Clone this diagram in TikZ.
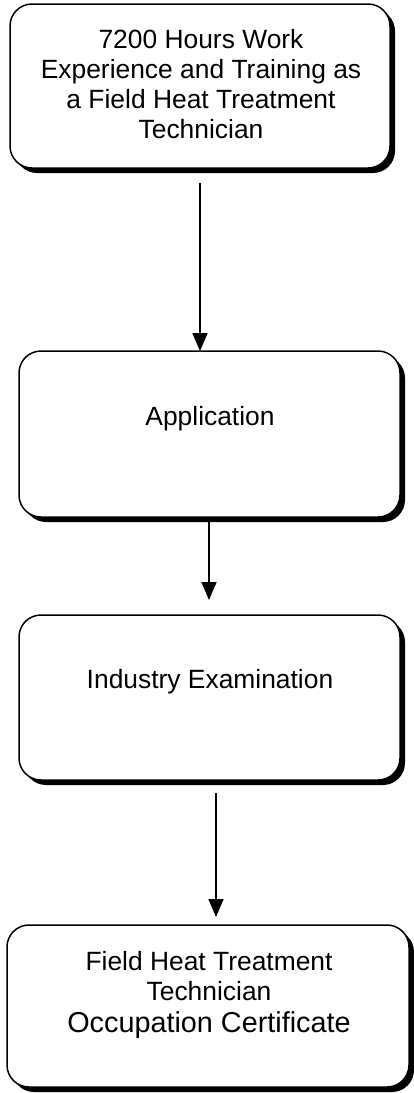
\documentclass[tikz,border=0pt]{standalone}
\usepackage{fontspec}
\setmainfont{Liberation Sans}
\usetikzlibrary{arrows.meta,shadows}
\begin{document}
\begin{tikzpicture}[x=1pt,y=-1pt,
  stepbox/.style={draw=black, line width=1.5pt, fill=white, rounded corners=22pt,
    inner sep=0pt, outer sep=0pt,
    drop shadow={shadow xshift=5pt, shadow yshift=-5pt, fill=black, opacity=1}},
  label/.style={align=center, inner sep=0pt, font=\fontsize{26.4}{30}\selectfont},
  arr/.style={line width=1.6pt, -{Triangle[width=15pt,length=18pt]}}]
\useasboundingbox (0,0) rectangle (413,1093);
\node[stepbox, minimum width=380pt, minimum height=164pt] (b1) at (200,86) {};
\node[stepbox, minimum width=381pt, minimum height=166pt] (b2) at (209.5,434) {};
\node[stepbox, minimum width=381pt, minimum height=165pt] (b3) at (209.5,697.5) {};
\node[stepbox, minimum width=402pt, minimum height=162pt] (b4) at (208,1006) {};
\node[label] (t1) at (201,84.5) {7200 Hours Work\\Experience and Training as\\a Field Heat Treatment\\Technician};
\node[label] (t2) at (210,419) {Application};
\node[label] (t3) at (210,682) {Industry Examination};
\node[label] (t4) at (209,994.5) {Field Heat Treatment\\Technician\\[2pt]{\fontsize{28.8}{32}\selectfont Occupation Certificate}};
\coordinate (s1) at (200,183);
\coordinate (s2) at (209,518);
\coordinate (e2) at (209,600);
\coordinate (s3) at (216,793);
\coordinate (e3) at (216,917);
\draw[arr] (s1) -- (s1 |- b2.north);
\draw[arr] (s2) -- (e2);
\draw[arr] (s3) -- (e3);
\end{tikzpicture}
\end{document}
